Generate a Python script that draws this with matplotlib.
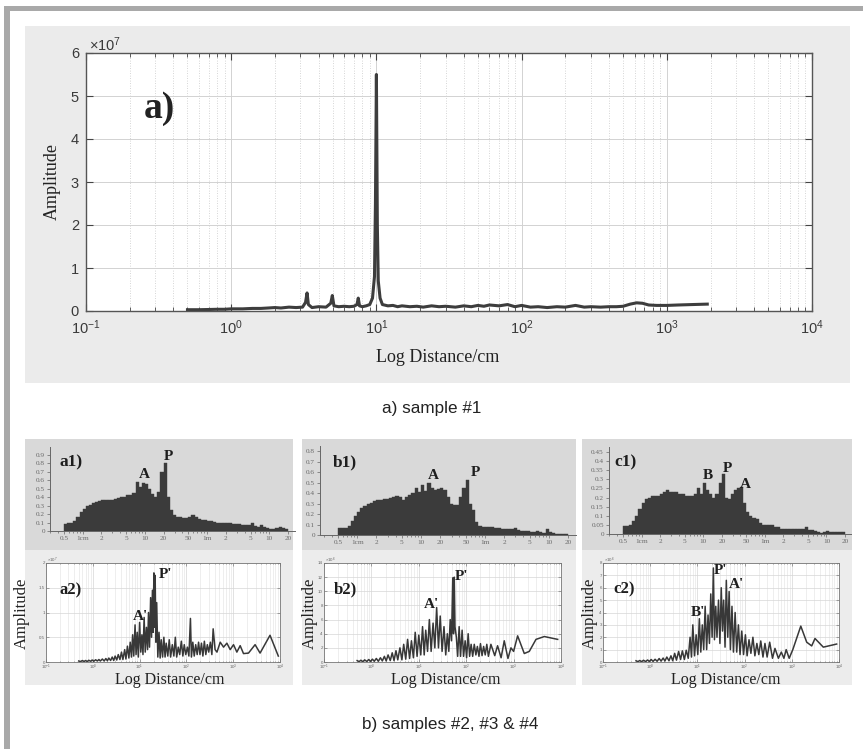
import numpy as np
import matplotlib
matplotlib.use('Agg')
import matplotlib.pyplot as plt
from matplotlib.patches import Rectangle
from matplotlib.ticker import LogLocator, FixedLocator, NullFormatter, FixedFormatter

plt.rcParams['font.family'] = ['Liberation Sans', 'DejaVu Sans']
plt.rcParams['mathtext.fontset'] = 'custom'
plt.rcParams['mathtext.rm'] = 'Liberation Sans'
plt.rcParams['mathtext.it'] = 'Liberation Sans:italic'
plt.rcParams['axes.unicode_minus'] = False
SERIF = ['Liberation Serif', 'DejaVu Serif']

# ---------------- data ----------------
# panel a) sample #1 : distance (cm) vs amplitude (x1e7)
main_x = [0.5, 0.6, 0.7, 0.8, 0.9, 1.0, 1.2, 1.4, 1.6, 1.8, 2.0, 2.2, 2.5, 2.8, 3.1, 3.25, 3.33, 3.4,
          3.6, 4.0, 4.5, 4.85, 4.97, 5.1, 5.5, 6.0, 6.5, 7.0, 7.35, 7.5, 7.65, 8.0, 8.5, 9.0, 9.4, 9.7,
          9.85, 10.0, 10.15, 10.3, 10.6, 11, 12, 13, 14, 15, 17, 19, 21, 24, 27, 30, 35, 40, 45, 50,
          55, 60, 70, 80, 90, 100, 115, 130, 150, 175, 200, 235, 270, 300, 350, 400, 450, 500, 560,
          620, 680, 750, 850, 1000, 1200, 1500, 1900]
main_y = [0.03, 0.03, 0.035, 0.04, 0.04, 0.05, 0.05, 0.06, 0.06, 0.07, 0.08, 0.07, 0.09, 0.08, 0.09,
          0.2, 0.42, 0.15, 0.08, 0.1, 0.09, 0.18, 0.36, 0.12, 0.1, 0.11, 0.1, 0.11, 0.15, 0.3, 0.12,
          0.1, 0.12, 0.15, 0.3, 0.8, 2.5, 5.5, 2.0, 0.7, 0.3, 0.15, 0.12, 0.13, 0.1, 0.12, 0.1, 0.11,
          0.09, 0.12, 0.1, 0.11, 0.09, 0.12, 0.1, 0.13, 0.11, 0.14, 0.12, 0.15, 0.1, 0.13, 0.09, 0.1,
          0.08, 0.1, 0.09, 0.13, 0.09, 0.1, 0.09, 0.1, 0.1, 0.11, 0.16, 0.19, 0.18, 0.14, 0.13, 0.13,
          0.14, 0.15, 0.16]

# histograms (a1, b1, c1): 72 log bins from 0.5 cm to 20 m
hist_a1 = [0.085, 0.09, 0.09, 0.12, 0.16, 0.22, 0.26, 0.29, 0.31, 0.33,
           0.34, 0.35, 0.36, 0.36, 0.37, 0.37, 0.38, 0.39, 0.40, 0.40,
           0.42, 0.43, 0.45, 0.58, 0.52, 0.57, 0.55, 0.50, 0.44, 0.40,
           0.46, 0.70, 0.80, 0.40, 0.25, 0.19, 0.17, 0.16, 0.15, 0.15,
           0.16, 0.19, 0.16, 0.14, 0.13, 0.13, 0.12, 0.12, 0.11, 0.10,
           0.10, 0.09, 0.10, 0.09, 0.08, 0.08, 0.08, 0.07, 0.07, 0.07,
           0.10, 0.06, 0.05, 0.07, 0.05, 0.03, 0.02, 0.02, 0.04, 0.05,
           0.04, 0.02]
hist_b1 = [0.07, 0.07, 0.07, 0.09, 0.13, 0.18, 0.22, 0.26, 0.28, 0.30,
           0.31, 0.32, 0.33, 0.33, 0.34, 0.34, 0.35, 0.36, 0.37, 0.36,
           0.33, 0.36, 0.38, 0.40, 0.45, 0.41, 0.48, 0.42, 0.50, 0.45,
           0.43, 0.44, 0.45, 0.43, 0.36, 0.30, 0.29, 0.29, 0.36, 0.45,
           0.53, 0.30, 0.24, 0.12, 0.09, 0.08, 0.08, 0.08, 0.08, 0.07,
           0.07, 0.06, 0.06, 0.06, 0.06, 0.07, 0.05, 0.04, 0.04, 0.04,
           0.03, 0.03, 0.04, 0.03, 0.02, 0.06, 0.03, 0.02, 0.01, 0.01,
           0.005, 0.005]
hist_c1 = [0.045, 0.045, 0.05, 0.07, 0.10, 0.14, 0.17, 0.19, 0.20, 0.21,
           0.21, 0.21, 0.22, 0.23, 0.24, 0.23, 0.23, 0.23, 0.22, 0.22,
           0.21, 0.21, 0.21, 0.22, 0.25, 0.22, 0.28, 0.24, 0.22, 0.20,
           0.22, 0.28, 0.33, 0.20, 0.19, 0.22, 0.24, 0.25, 0.26, 0.17,
           0.12, 0.10, 0.09, 0.08, 0.06, 0.05, 0.05, 0.05, 0.05, 0.04,
           0.04, 0.03, 0.03, 0.03, 0.025, 0.03, 0.025, 0.025, 0.03, 0.04,
           0.02, 0.02, 0.015, 0.01, 0.005, 0.01, 0.015, 0.01, 0.01, 0.01,
           0.01, 0.01]
hist_ticks = [0.5, 1, 2, 5, 10, 20, 50, 100, 200, 500, 1000, 2000]
hist_ticklabels = ['0.5', '1cm', '2', '5', '10', '20', '50', '1m', '2', '5', '10', '20']

# spectra (a2 x1e7, b2 x1e6, c2 x1e6)
a2_x = [0.5, 0.55, 0.6, 0.65, 0.7, 0.76, 0.82, 0.9, 0.97, 1.05, 1.15, 1.25, 1.35, 1.45, 1.6, 1.75,
        1.9, 2.05, 2.2, 2.4, 2.6, 2.8, 3.0, 3.25, 3.5, 3.8, 4.1, 4.4, 4.8, 5.1, 5.5, 5.9, 6.3, 6.7,
        7.1, 7.5, 8.0, 8.4, 8.9, 9.4, 10.0, 10.6, 11.2, 11.8, 12.5, 13.2, 14.0, 14.8, 15.5, 16.3,
        17.2, 18.0, 18.8, 19.5, 20.2, 20.8, 21.5, 22.3, 23.2, 24.5, 26, 27.5, 29, 31, 33, 35, 37,
        40, 43, 46, 50, 54, 58, 62, 67, 72, 78, 84, 90, 97, 105, 113, 122, 128, 137, 147, 158, 170,
        182, 195, 210, 225, 242, 260, 280, 300, 325, 350, 373, 410, 450, 528, 622, 733, 863, 1016,
        1197, 1409, 1660, 2120, 2937, 3750, 6120, 9200]
a2_y = [0.02, 0.01, 0.03, 0.01, 0.03, 0.01, 0.035, 0.015, 0.04, 0.015, 0.045, 0.02, 0.05, 0.02,
        0.06, 0.02, 0.07, 0.025, 0.08, 0.03, 0.1, 0.03, 0.12, 0.04, 0.15, 0.05, 0.2, 0.05, 0.25,
        0.06, 0.32, 0.08, 0.4, 0.1, 0.55, 0.12, 0.75, 0.15, 0.6, 0.1, 0.8, 0.2, 0.55, 0.15, 0.9,
        0.2, 0.7, 0.25, 1.0, 0.3, 1.3, 0.5, 1.45, 0.6, 1.8, 0.7, 1.75, 0.4, 1.2, 0.1, 0.6, 0.08,
        0.45, 0.1, 0.5, 0.1, 0.38, 0.12, 0.45, 0.1, 0.35, 0.12, 0.5, 0.1, 0.3, 0.15, 0.42, 0.12,
        0.35, 0.15, 0.3, 0.12, 0.88, 0.1, 0.4, 0.12, 0.35, 0.15, 0.4, 0.15, 0.38, 0.12, 0.42,
        0.15, 0.35, 0.2, 0.4, 0.15, 0.67, 0.25, 0.2, 0.4, 0.3, 0.38, 0.25, 0.35, 0.2, 0.33, 0.17,
        0.18, 0.35, 0.18, 0.54, 0.12]
b2_x = [0.5, 0.55, 0.6, 0.66, 0.72, 0.8, 0.88, 0.96, 1.05, 1.15, 1.27, 1.4, 1.55, 1.7, 1.88, 2.05,
        2.25, 2.5, 2.75, 3.0, 3.3, 3.6, 4.0, 4.4, 4.8, 5.3, 5.8, 6.4, 7.0, 7.7, 8.4, 9.2, 10.0, 11,
        12, 13, 14, 15.3, 16.7, 18.2, 20, 21.8, 23.8, 26, 28.3, 31, 34, 37, 40, 43, 46, 49, 52, 54,
        56, 58, 62, 66, 71, 76, 82, 88, 95, 102, 110, 118, 127, 137, 148, 160, 172, 186, 200, 216,
        233, 252, 272, 294, 332, 400, 459, 545, 635, 760, 879, 1000, 1216, 1680, 2143, 2967, 4446,
        8511]
b2_y = [0.2, 0.05, 0.25, 0.05, 0.3, 0.08, 0.35, 0.08, 0.4, 0.1, 0.5, 0.1, 0.6, 0.15, 0.8, 0.15,
        1.0, 0.2, 1.3, 0.2, 1.6, 0.3, 2.0, 0.3, 2.5, 0.4, 3.2, 0.5, 3.0, 0.6, 4.2, 0.8, 3.8, 1.0,
        5.0, 1.0, 4.5, 1.5, 6.0, 1.5, 5.5, 2.0, 7.7, 2.0, 6.5, 1.5, 5.0, 1.0, 4.0, 1.5, 6.0, 3.0,
        11.9, 4.0, 12.0, 5.0, 3.5, 0.8, 5.0, 0.8, 4.5, 0.8, 3.0, 0.6, 4.0, 0.8, 2.5, 0.8, 2.5, 1.0,
        2.2, 0.8, 2.6, 0.9, 2.2, 1.0, 2.5, 0.8, 2.5, 0.9, 2.3, 0.6, 3.0, 0.5, 2.0, 1.5, 3.7, 1.2,
        1.5, 3.2, 3.6, 3.2]
c2_x = [0.5, 0.55, 0.6, 0.66, 0.72, 0.8, 0.88, 0.96, 1.05, 1.15, 1.27, 1.4, 1.55, 1.7, 1.88, 2.05,
        2.25, 2.5, 2.75, 3.0, 3.3, 3.6, 4.0, 4.4, 4.8, 5.3, 5.8, 6.4, 7.0, 7.5, 8.0, 8.7, 9.4, 10.2,
        11, 11.8, 12.7, 13.6, 14.6, 15.7, 16.8, 18, 19.2, 20.5, 21.8, 23, 24.5, 26, 28, 30, 32, 34,
        36, 38.5, 41, 44, 47, 50, 54, 58, 63, 68, 74, 80, 87, 95, 104, 113, 124, 136, 150, 165,
        182, 200, 220, 245, 270, 300, 340, 390, 440, 520, 600, 680, 760, 880, 1050, 1550, 2070,
        2640, 3100, 4650, 8900]
c2_y = [0.1, 0.03, 0.12, 0.03, 0.14, 0.04, 0.16, 0.05, 0.2, 0.05, 0.22, 0.06, 0.28, 0.07, 0.32,
        0.08, 0.4, 0.1, 0.5, 0.1, 0.7, 0.15, 0.85, 0.2, 0.9, 0.2, 0.95, 0.3, 2.0, 0.4, 3.0, 0.5,
        2.2, 0.6, 3.5, 0.8, 3.0, 1.0, 4.5, 1.0, 3.8, 1.5, 5.5, 2.0, 7.6, 1.8, 4.5, 2.0, 5.0, 1.5,
        6.0, 2.5, 5.0, 1.2, 6.6, 2.0, 5.7, 1.0, 4.5, 0.8, 4.0, 0.8, 3.0, 0.6, 2.5, 0.6, 2.2, 0.5,
        1.8, 0.7, 2.0, 0.5, 1.5, 0.6, 1.7, 0.4, 1.5, 0.4, 1.6, 0.3, 1.1, 0.3, 0.8, 0.3, 1.0, 0.3,
        1.0, 2.9, 1.6, 1.3, 1.9, 1.2, 1.45]

# ---------------- figure ----------------
W, H = 863, 749
fig = plt.figure(figsize=(W / 100, H / 100), dpi=100)
fig.patch.set_facecolor('white')


def rect(x0, y0, x1, y1):
    return [x0 / W, 1 - y1 / H, (x1 - x0) / W, (y1 - y0) / H]


def bg(x0, y0, x1, y1, color):
    fig.add_artist(Rectangle((x0 / W, 1 - y1 / H), (x1 - x0) / W, (y1 - y0) / H,
                             transform=fig.transFigure, facecolor=color,
                             edgecolor='none', zorder=-5))


def ftext(x, y, s, **kw):
    fig.text(x / W, 1 - y / H, s, **kw)


# frame
bg(4, 6, 863, 11, '#a9a9a9')
bg(4, 6, 10, 749, '#a9a9a9')

# ---------- main panel ----------
bg(25, 26, 850, 383, '#ebebeb')
ax = fig.add_axes(rect(86, 53, 812, 311))
ax.set_facecolor('white')
ax.plot(main_x, main_y, color='#3d3d3d', lw=2.2, solid_joinstyle='round')
ax.set_xscale('log')
ax.set_xlim(0.1, 1e4)
ax.set_ylim(0, 6)
ax.set_yticks(range(7))
ax.xaxis.set_major_locator(LogLocator(base=10, numticks=10))
ax.xaxis.set_minor_locator(LogLocator(base=10, subs=np.arange(2, 10), numticks=20))
ax.xaxis.set_minor_formatter(NullFormatter())
ax.grid(True, which='major', color='#d2d2d2', lw=0.7, ls='-')
ax.grid(True, which='minor', axis='x', color='#c8c8c8', lw=0.6, ls=(0, (1, 2)))
ax.set_axisbelow(True)
ax.tick_params(which='both', direction='in', top=True, right=True, colors='#444444',
               labelcolor='#3a3a3a', labelsize=10.5)
ax.tick_params(which='major', length=5, width=0.8, pad=5)
ax.tick_params(which='minor', length=3, width=0.6)
for s in ax.spines.values():
    s.set_color('#555555')
    s.set_linewidth(1.0)
ftext(89, 45, r'$\times10^{7}$', fontsize=10.5, color='#3a3a3a', va='center', ha='left')
ftext(52, 182, 'Amplitude', family=SERIF, fontsize=13, rotation=90, ha='center', va='center',
      color='#222222')
ftext(438, 358, 'Log Distance/cm', family=SERIF, fontsize=13, ha='center', va='center',
      color='#222222')
ftext(159, 109, 'a)', family=SERIF, fontsize=27, fontweight='bold', ha='center', va='center',
      color='#222222')
ftext(432, 409, 'a) sample #1', fontsize=12.3, ha='center', va='center', color='#222222')
ftext(450, 725, 'b) samples #2, #3 & #4', fontsize=12.3, ha='center', va='center',
      color='#222222')

# ---------- histograms ----------
edges = 0.5 * 10 ** (0.05 * np.arange(73))


def histogram(box, heights, xlim, ymax, yticks, ylabels, name, labels):
    x0, y0, x1, y1 = box
    axh = fig.add_axes(rect(x0, y0, x1, y1))
    axh.patch.set_alpha(0)
    axh.bar(edges[:-1], heights, width=np.diff(edges), align='edge', color='#3b3b3b',
            edgecolor='#3b3b3b', linewidth=0.3)
    axh.set_xscale('log')
    axh.set_xlim(*xlim)
    axh.set_ylim(0, ymax)
    axh.xaxis.set_major_locator(FixedLocator(hist_ticks))
    axh.xaxis.set_major_formatter(FixedFormatter(hist_ticklabels))
    axh.xaxis.set_minor_locator(LogLocator(base=10, subs=np.arange(2, 10), numticks=20))
    axh.xaxis.set_minor_formatter(NullFormatter())
    axh.set_yticks(yticks)
    axh.set_yticklabels(ylabels)
    for sp in ['top', 'right']:
        axh.spines[sp].set_visible(False)
    for sp in ['left', 'bottom']:
        axh.spines[sp].set_color('#666666')
        axh.spines[sp].set_linewidth(0.7)
    axh.tick_params(which='both', direction='out', colors='#666666', labelcolor='#6a6a6a',
                    labelsize=5.2, pad=1.5, width=0.5)
    axh.tick_params(which='major', length=2.2)
    axh.tick_params(which='minor', length=1.3)
    for lab in axh.get_xticklabels() + axh.get_yticklabels():
        lab.set_family(SERIF)
    ftext(name[1], name[2], name[0], family=SERIF, fontsize=12.5, fontweight='bold',
          ha='center', va='center', color='#1e1e1e')
    for t, x, y in labels:
        ftext(x, y, t, family=SERIF, fontsize=11, fontweight='bold', ha='center', va='center',
              color='#1e1e1e')


hist_bg = '#d9d9d9'
spec_bg = '#ececec'
bg(25, 439, 293, 550, hist_bg)
bg(25, 550, 293, 685, spec_bg)
bg(302, 439, 576, 550, hist_bg)
bg(302, 550, 576, 685, spec_bg)
bg(582, 439, 852, 550, hist_bg)
bg(582, 550, 852, 685, spec_bg)

histogram((50, 447, 295, 531), hist_a1, (0.297, 2595), 0.99,
          [0, 0.1, 0.2, 0.3, 0.4, 0.5, 0.6, 0.7, 0.8, 0.9],
          ['0', '0.1', '0.2', '0.3', '0.4', '0.5', '0.6', '0.7', '0.8', '0.9'],
          ('a1)', 71, 462), [('A', 144, 474), ('P', 168, 456)])
histogram((320, 446, 576, 535), hist_b1, (0.262, 2667), 0.85,
          [0, 0.1, 0.2, 0.3, 0.4, 0.5, 0.6, 0.7, 0.8],
          ['0', '0.1', '0.2', '0.3', '0.4', '0.5', '0.6', '0.7', '0.8'],
          ('b1)', 345, 462), [('A', 433, 476), ('P', 475, 473)])
histogram((609, 447, 851, 534), hist_c1, (0.296, 2500), 0.478,
          [0, 0.05, 0.1, 0.15, 0.2, 0.25, 0.3, 0.35, 0.4, 0.45],
          ['0', '0.05', '0.1', '0.15', '0.2', '0.25', '0.3', '0.35', '0.4', '0.45'],
          ('c1)', 625, 462), [('B', 708, 476), ('P', 727, 468), ('A', 745, 484)])


# ---------- spectra ----------
def spectrum(box, x, y, ymax, yticks, ylabels, expo, name, labels, ylab_x, xlab_x):
    x0, y0, x1, y1 = box
    axs = fig.add_axes(rect(x0, y0, x1, y1))
    axs.set_facecolor('white')
    axs.plot(x, y, color='#383838', lw=1.1)
    axs.set_xscale('log')
    axs.set_xlim(0.1, 1e4)
    axs.set_ylim(0, ymax)
    axs.set_yticks(yticks)
    axs.set_yticklabels(ylabels)
    axs.xaxis.set_major_locator(LogLocator(base=10, numticks=10))
    axs.xaxis.set_minor_locator(LogLocator(base=10, subs=np.arange(2, 10), numticks=20))
    axs.xaxis.set_minor_formatter(NullFormatter())
    axs.grid(True, which='major', color='#d6d6d6', lw=0.5)
    axs.grid(True, which='minor', axis='x', color='#e2e2e2', lw=0.4)
    axs.set_axisbelow(True)
    axs.tick_params(which='both', direction='in', top=True, right=True, colors='#666666',
                    labelcolor='#666666', labelsize=3.2, pad=0.8, width=0.4)
    axs.tick_params(which='major', length=2)
    axs.tick_params(which='minor', length=1)
    for s in axs.spines.values():
        s.set_color('#777777')
        s.set_linewidth(0.6)
    ftext(x0 + 1, y0 - 3, expo, fontsize=3.2, color='#666666', ha='left', va='center')
    ftext(name[1], name[2], name[0], family=SERIF, fontsize=12, fontweight='bold',
          ha='center', va='center', color='#1e1e1e')
    for t, lx, ly in labels:
        ftext(lx, ly, t, family=SERIF, fontsize=11, fontweight='bold', ha='center',
              va='center', color='#1e1e1e')
    ftext(ylab_x, 613, 'Amplitude', family=SERIF, fontsize=12, rotation=90, ha='center',
          va='center', color='#222222')
    ftext(xlab_x, 679.5, 'Log Distance/cm', family=SERIF, fontsize=11.5, ha='center',
          va='center', color='#222222')


spectrum((46, 563, 280, 662), a2_x, a2_y, 2.0, [0, 0.5, 1, 1.5, 2],
         ['0', '0.5', '1', '1.5', '2'], r'$\times10^{7}$', ('a2)', 71, 590),
         [("P'", 166, 575), ("A'", 140, 617)], 22, 170)
spectrum((324, 563, 561, 662), b2_x, b2_y, 14, [0, 2, 4, 6, 8, 10, 12, 14],
         ['0', '2', '4', '6', '8', '10', '12', '14'], r'$\times10^{6}$', ('b2)', 345, 589),
         [("P'", 462, 577), ("A'", 431, 604)], 310, 446)
spectrum((603, 563, 839, 662), c2_x, c2_y, 8, [0, 1, 2, 3, 4, 5, 6, 7, 8],
         ['0', '1', '2', '3', '4', '5', '6', '7', '8'], r'$\times10^{6}$', ('c2)', 624, 589),
         [("P'", 721, 571), ("A'", 736, 584), ("B'", 698, 612)], 590, 726)

fig.savefig('out.png', dpi=100)
